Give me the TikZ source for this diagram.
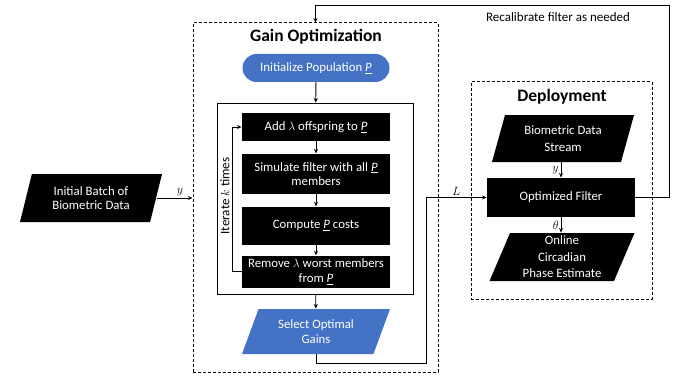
\documentclass[tikz,border=0pt]{standalone}
\usepackage{fontspec}
\setmainfont{Carlito}
\usetikzlibrary{positioning,shapes.geometric,shapes.misc,arrows.meta}
\definecolor{gainblue}{RGB}{68,114,196}
\newcommand{\popP}{\underline{\textit{P}}}

\begin{document}
\begin{tikzpicture}
    [
    x=1pt, y=-1pt,
    basic/.style={text=white, text centered, align=center, inner sep=1pt,
      font=\fontsize{12.8}{14.5}\selectfont},
    blk/.style={basic, fill=black, minimum width=148pt},
    para/.style={basic, fill=black, trapezium, trapezium left angle=65,
      trapezium right angle=115, trapezium stretches body, minimum width=142pt},
    dashbox/.style={draw, line width=1pt, dash pattern=on 3pt off 2pt},
    title/.style={font=\fontsize{17.5}{20}\selectfont\bfseries},
    lbl/.style={font=\fontsize{13}{15}\selectfont, inner sep=2pt},
    every path/.style={line width=0.9pt},
    >={Stealth[length=4.5pt, width=4pt]}
    ]
    \useasboundingbox (0,0) rectangle (676,377);

    % Gain optimization
    \node [dashbox, minimum width=245pt, minimum height=349pt] (gain) at (315.5,197.5) {};
    \node [title] (gaintitle) at (316,37) {Gain Optimization};
    \node [basic, fill=gainblue, rounded rectangle, minimum width=149pt, minimum height=28pt] (init) at (316,68) {Initialize Population \popP};
    \node [draw, minimum width=196pt, minimum height=191pt] (loopbox) at (315,198.5) {};
    \draw [->] (init) -- (loopbox);
    % Inner loop
    \node [blk, minimum height=28pt] (add) at (316,127) {Add $\lambda$ offspring to \popP};
    \node [blk, minimum height=40pt, below=12pt of add] (sim) {Simulate filter with all \popP\\members};
    \node [blk, minimum height=38pt, below=12pt of sim] (cost) {Compute \popP{} costs};
    \node [blk, minimum height=32pt, below=10pt of cost] (rem) {Remove $\lambda$ worst members\\from \popP};
    \draw [->] (add) -- (sim);
    \draw [->] (sim) -- (cost);
    \draw [->] (cost) -- (rem);
    \draw [->] (rem.west) -- ++(-9pt,0) |- (add.west);
    \node [lbl, rotate=90] (iter) at (225,196) {Iterate $k$ times};
    % Optimal gains
    \node [para, fill=gainblue, trapezium left angle=57, trapezium right angle=123,
      minimum width=148pt, minimum height=45pt] (select) at (316,331.5) {Select Optimal\\Gains};
    \draw [->] (loopbox) -- (select);

    % Initial data
    \node [para, minimum height=48pt] (batch) at (91,198) {Initial Batch of\\Biometric Data};
    \draw [->] (batch.east) -- node[lbl, above, pos=0.65] {$y$} (batch.east -| gain.west);

    % Deployment
    \node [dashbox, minimum width=181pt, minimum height=217pt] (deploy) at (561.5,190.5) {};
    \node [title] (deploytitle) at (562,97) {Deployment};
    \node [para, minimum height=47pt, font=\fontsize{12.8}{17}\selectfont] (stream) at (563,138.5) {Biometric Data\\Stream};
    \node [blk, minimum height=39pt] (filter) at (561,197.5) {Optimized Filter};
    \node [para, minimum height=48pt, minimum width=145pt, font=\fontsize{12.8}{16.5}\selectfont] (online) at (562,257) {Online\\Circadian\\Phase Estimate};
    \draw [->] (stream.south -| filter) -- node[lbl, left] {$y$} (filter);
    \draw [->] (filter) -- node[lbl, left] {$\theta$} (online.north -| filter);

    % Gains to filter
    \coordinate (lbend) at (426,363);
    \draw [->] (select.south) |- (lbend) |- node[lbl, above, pos=0.75] {$L$} (filter.west);
    % Recalibration
    \coordinate (fb) at (669,5);
    \draw [->] (filter.east) -| (fb) -| (gain.north);
    \node [lbl] (recal) at (558,17) {Recalibrate filter as needed};
\end{tikzpicture}
\end{document}
